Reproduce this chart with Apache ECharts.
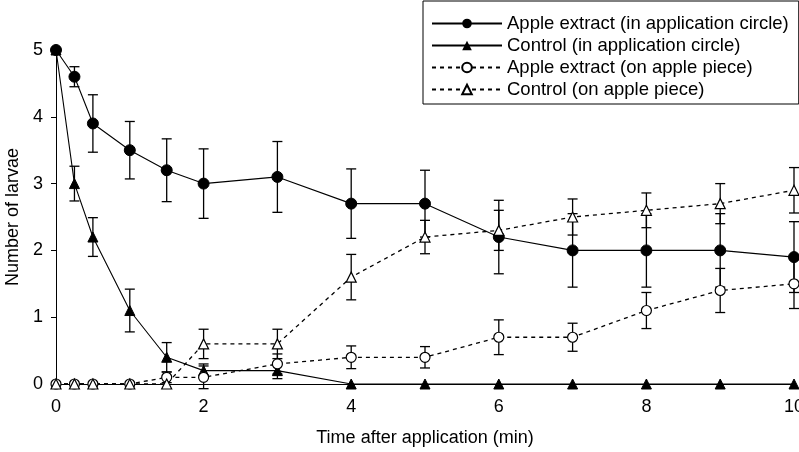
<!DOCTYPE html>
<html>
<head>
<meta charset="utf-8">
<script src="https://cdn.jsdelivr.net/npm/echarts@6/dist/echarts.min.js"></script>
<style>
  html, body { margin: 0; padding: 0; background: #fff; }
  #chart { width: 799px; height: 452px; }
</style>
</head>
<body>
<div id="chart"></div>
<script>
const times = [0, 0.25, 0.5, 1, 1.5, 2, 3, 4, 5, 6, 7, 8, 9, 10];
const xTicks = [0, 2, 4, 6, 8, 10];
const yTicks = [0, 1, 2, 3, 4, 5];

const seriesNames = [
  'Apple extract (in application circle)',
  'Control (in application circle)',
  'Apple extract (on apple piece)',
  'Control (on apple piece)'
];

const appleCircle    = [5, 4.6, 3.9, 3.5, 3.2, 3.0, 3.1, 2.7, 2.7, 2.2, 2.0, 2.0, 2.0, 1.9];
const appleCircleErr = [0, 0.15, 0.43, 0.43, 0.47, 0.52, 0.53, 0.52, 0.5, 0.55, 0.55, 0.55, 0.55, 0.53];

const controlCircle    = [5, 3.0, 2.2, 1.1, 0.4, 0.2, 0.2, 0, 0, 0, 0, 0, 0, 0];
const controlCircleErr = [0, 0.26, 0.29, 0.32, 0.22, 0.1, 0.12, 0, 0, 0, 0, 0, 0, 0];

const applePiece    = [0, 0, 0, 0, 0.1, 0.1, 0.3, 0.4, 0.4, 0.7, 0.7, 1.1, 1.4, 1.5];
const applePieceErr = [0, 0, 0, 0, 0.08, 0.17, 0.15, 0.17, 0.16, 0.26, 0.21, 0.27, 0.33, 0.37];

const controlPiece    = [0, 0, 0, 0, 0, 0.6, 0.6, 1.6, 2.2, 2.3, 2.5, 2.6, 2.7, 2.9];
const controlPieceErr = [0, 0, 0, 0, 0, 0.22, 0.22, 0.34, 0.25, 0.3, 0.27, 0.26, 0.3, 0.34];

const FONT = 'Liberation Sans, Arial, Helvetica, sans-serif';

function pairs(vals) { return times.map((t, i) => [t, vals[i]]); }
function triples(vals, errs) { return times.map((t, i) => [t, vals[i], errs[i]]); }

function errRender(params, api) {
  const x = api.value(0), y = api.value(1), e = api.value(2);
  if (!e) return null;
  const top = api.coord([x, y + e]);
  const bot = api.coord([x, y - e]);
  const hw = 5;
  const st = { stroke: '#000', lineWidth: 1.3 };
  return {
    type: 'group',
    children: [
      { type: 'line', shape: { x1: top[0], y1: top[1], x2: bot[0], y2: bot[1] }, style: st },
      { type: 'line', shape: { x1: top[0] - hw, y1: top[1], x2: top[0] + hw, y2: top[1] }, style: st },
      { type: 'line', shape: { x1: bot[0] - hw, y1: bot[1], x2: bot[0] + hw, y2: bot[1] }, style: st }
    ]
  };
}

function errSeries(vals, errs) {
  return {
    type: 'custom',
    renderItem: errRender,
    data: triples(vals, errs),
    encode: { x: 0, y: 1 },
    z: 1,
    silent: true,
    clip: false
  };
}

const solid = { color: '#000', width: 1.1, type: 'solid' };
const dashed = { color: '#000', width: 1.3, type: [4, 4] };

const option = {
  animation: false,
  backgroundColor: '#fff',
  textStyle: { fontFamily: FONT, color: '#000' },
  grid: { left: 56, right: 5, top: 50, bottom: 68, containLabel: false, outerBoundsMode: 'none' },
  legend: {
    data: seriesNames,
    orient: 'vertical',
    left: 423,
    top: 1,
    padding: [13, 10, 5, 8],
    itemGap: 3,
    itemWidth: 70,
    itemHeight: 12,
    borderColor: '#000',
    borderWidth: 1,
    backgroundColor: '#fff',
    textStyle: { fontSize: 18.5, color: '#000', fontFamily: FONT }
  },
  xAxis: {
    type: 'value',
    min: xTicks[0],
    max: xTicks[xTicks.length - 1],
    interval: 2,
    name: 'Time after application (min)',
    nameLocation: 'middle',
    nameGap: 45,
    nameTextStyle: { fontSize: 18, color: '#000', fontFamily: FONT },
    axisLine: { lineStyle: { color: '#000', width: 1 } },
    axisTick: { show: true, length: 5, lineStyle: { color: '#000' } },
    axisLabel: { fontSize: 18, color: '#000', margin: 14, fontFamily: FONT, showMaxLabel: true },
    splitLine: { show: false }
  },
  yAxis: {
    type: 'value',
    min: yTicks[0],
    max: yTicks[yTicks.length - 1],
    interval: 1,
    name: 'Number of larvae',
    nameLocation: 'middle',
    nameGap: 29,
    nameTextStyle: { fontSize: 18, color: '#000', fontFamily: FONT },
    axisLine: { show: true, lineStyle: { color: '#000', width: 1 } },
    axisTick: { show: true, length: 5, lineStyle: { color: '#000' } },
    axisLabel: { fontSize: 18, color: '#000', margin: 13, fontFamily: FONT },
    splitLine: { show: false }
  },
  series: [
    errSeries(appleCircle, appleCircleErr),
    errSeries(controlCircle, controlCircleErr),
    errSeries(applePiece, applePieceErr),
    errSeries(controlPiece, controlPieceErr),
    {
      name: seriesNames[0], type: 'line', data: pairs(appleCircle),
      symbol: 'circle', symbolSize: 11, showAllSymbol: true,
      lineStyle: solid, itemStyle: { color: '#000', borderColor: '#000' }, z: 5
    },
    {
      name: seriesNames[1], type: 'line', data: pairs(controlCircle),
      symbol: 'triangle', symbolSize: 10, showAllSymbol: true,
      lineStyle: solid, itemStyle: { color: '#000', borderColor: '#000' }, z: 5
    },
    {
      name: seriesNames[2], type: 'line', data: pairs(applePiece),
      symbol: 'circle', symbolSize: 10, showAllSymbol: true,
      lineStyle: dashed, itemStyle: { color: '#fff', borderColor: '#000', borderWidth: 1.2 }, z: 5
    },
    {
      name: seriesNames[3], type: 'line', data: pairs(controlPiece),
      symbol: 'triangle', symbolSize: 10, showAllSymbol: true,
      lineStyle: dashed, itemStyle: { color: '#fff', borderColor: '#000', borderWidth: 1.2 }, z: 5
    }
  ]
};

const chart = echarts.init(document.getElementById('chart'), null, { renderer: 'canvas' });
chart.setOption(option);
</script>
</body>
</html>
